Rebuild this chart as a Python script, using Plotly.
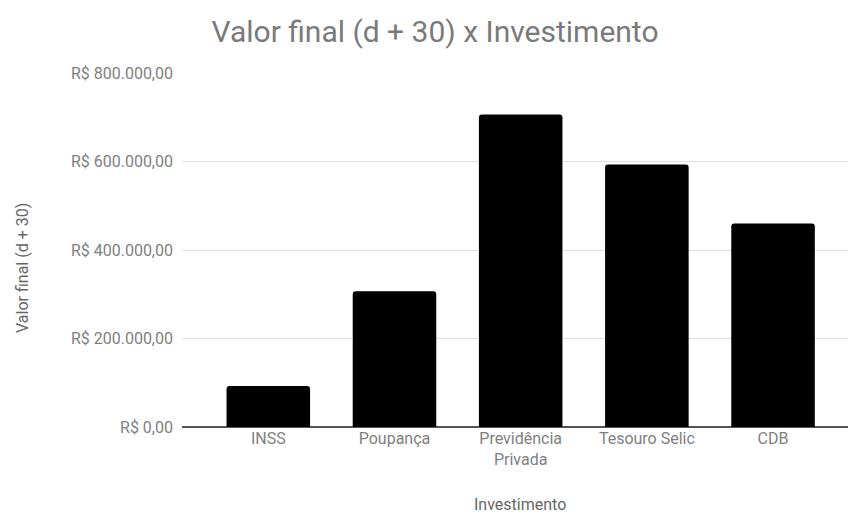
import plotly.graph_objects as go

categories = ["INSS", "Poupança", "Previdência<br>Privada", "Tesouro Selic", "CDB"]
values = [92500, 307000, 706000, 593000, 460000]
y_ticks = [0, 200000, 400000, 600000, 800000]
y_tick_labels = ["R$ 0,00", "R$ 200.000,00", "R$ 400.000,00", "R$ 600.000,00", "R$ 800.000,00"]

W, H = 848, 515

fig = go.Figure(go.Bar(
    x=list(range(len(categories))),
    y=values,
    width=0.662,
    marker=dict(color="#000000", line=dict(width=0), cornerradius=3),
    hoverinfo="skip",
))

fig.update_layout(
    width=W, height=H,
    margin=dict(l=182, r=0, t=73, b=88),
    paper_bgcolor="white",
    plot_bgcolor="white",
    font=dict(family="Roboto", color="#7a7a7a"),
    showlegend=False,
    title=dict(
        text="Valor final (d + 30) x Investimento",
        x=435 / W, xanchor="center", xref="container",
        y=1 - 31 / H, yanchor="middle", yref="container",
        font=dict(family="Roboto", size=30, color="#7a7a7a"),
    ),
    xaxis=dict(
        tickmode="array",
        tickvals=list(range(len(categories))),
        ticktext=categories,
        range=[-0.684, 4.594],
        showgrid=False,
        zeroline=False,
        showline=False,
        ticks="",
        tickfont=dict(family="Roboto", size=16, color="#808080"),
    ),
    yaxis=dict(
        range=[0, 800000],
        tickmode="array",
        tickvals=y_ticks,
        ticktext=y_tick_labels,
        showgrid=True,
        gridcolor="#e0e0e0",
        gridwidth=1,
        zeroline=True,
        zerolinecolor="#555555",
        zerolinewidth=1.5,
        ticks="",
        ticklabelstandoff=8,
        tickfont=dict(family="Roboto", size=16, color="#808080"),
    ),
    annotations=[
        dict(text="Valor final (d + 30)", xref="paper", yref="paper",
             x=-(182 - 22) / (W - 182), y=(H - 88 - 268) / (H - 73 - 88),
             textangle=-90, showarrow=False, xanchor="center", yanchor="middle",
             font=dict(family="Roboto", size=16, color="#666666")),
        dict(text="Investimento", xref="paper", yref="paper",
             x=(520 - 182) / (W - 182), y=-(504 - (H - 88)) / (H - 73 - 88),
             showarrow=False, xanchor="center", yanchor="middle",
             font=dict(family="Roboto", size=16, color="#666666")),
    ],
)

fig.write_html("out.html")
